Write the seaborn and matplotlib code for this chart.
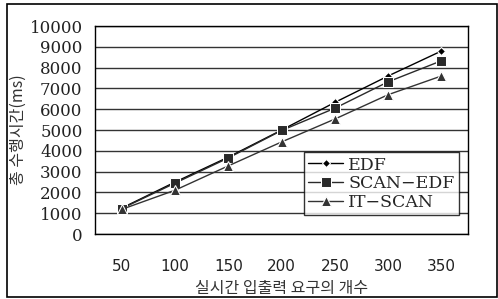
import matplotlib
matplotlib.use("Agg")
import matplotlib.pyplot as plt
import seaborn as sns
import pandas as pd
from matplotlib.patches import Rectangle

# 데이터
requests = [50, 100, 150, 200, 250, 300, 350]
edf = [1250, 2500, 3700, 5000, 6330, 7600, 8800]
scan_edf = [1230, 2450, 3660, 4980, 6050, 7320, 8330]
it_scan = [1190, 2110, 3280, 4430, 5530, 6700, 7600]
series_names = ["EDF", "SCAN\u2212EDF", "IT\u2212SCAN"]

df = pd.DataFrame({
    "x": requests * 3,
    "y": edf + scan_edf + it_scan,
    "series": [n for n in series_names for _ in requests],
})

sns.set_style("white")
plt.rcParams["font.family"] = ["Noto Sans CJK KR", "DejaVu Sans"]

fig = plt.figure(figsize=(4.98, 2.99), dpi=100)
ax = fig.add_axes([0.191, 0.217, 0.749, 0.696])

sns.lineplot(
    data=df, x="x", y="y", hue="series", style="series",
    palette=dict(zip(series_names, ["#000000", "#2a2a2a", "#333333"])),
    markers=dict(zip(series_names, ["D", "s", "^"])),
    dashes=False, linewidth=1.0, markersize=6.5, ax=ax,
)
for line in ax.lines:
    if line.get_marker() == "D":
        line.set_markersize(4.5)

ax.set_xlim(25, 375)
ax.set_ylim(0, 10000)
ax.set_yticks(range(0, 10001, 1000))
ax.set_yticklabels([str(v) for v in range(0, 10001, 1000)],
                   family="DejaVu Serif", fontsize=12, color="#222222")
ax.set_xticks(requests)
ax.set_xticklabels([str(v) for v in requests], family="DejaVu Sans",
                   fontsize=11, color="#222222")
ax.tick_params(axis="x", which="major", length=0, pad=18)
ax.tick_params(axis="y", length=3, direction="out", pad=6)
ax.set_xticks([75, 125, 175, 225, 275, 325], minor=True)
ax.tick_params(axis="x", which="minor", length=4, direction="in", color="black")
ax.grid(axis="y", color="#333333", linewidth=1.0)
ax.set_axisbelow(True)
for s in ax.spines.values():
    s.set_color("black")
    s.set_linewidth(1.0)

ax.set_xlabel("실시간 입출력 요구의 개수", fontsize=11.5, color="#333333", labelpad=4)
ax.set_ylabel("총 수행시간(ms)", fontsize=11.5, color="#333333", labelpad=2)

leg = ax.legend(loc="lower right", bbox_to_anchor=(0.975, 0.09),
                prop={"family": "DejaVu Serif", "size": 12.5},
                frameon=True, fancybox=False, edgecolor="black",
                handlelength=2.0, handletextpad=0.3, borderpad=0.25,
                labelspacing=0.1, borderaxespad=0)
leg.get_frame().set_linewidth(1.0)

# 바깥 테두리
fig.patches.append(Rectangle((0.014, 0.007), 0.984, 0.98, transform=fig.transFigure,
                             fill=False, edgecolor="black", linewidth=1.2))

fig.savefig("out.png", dpi=100)
